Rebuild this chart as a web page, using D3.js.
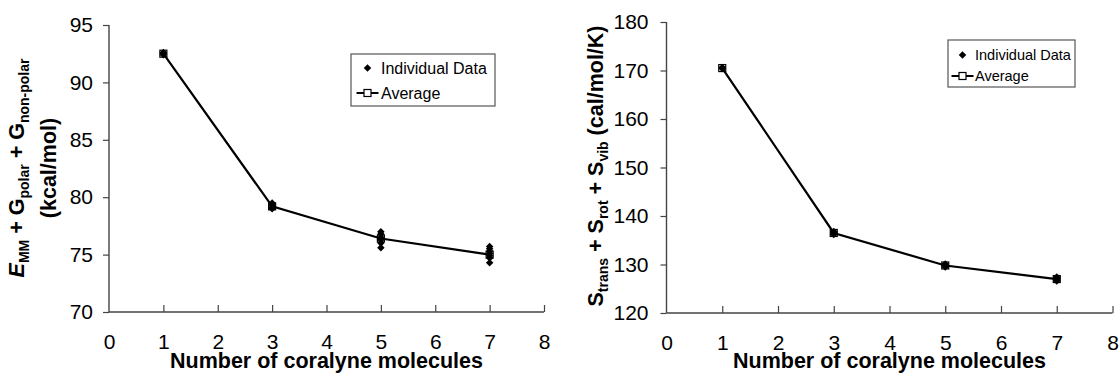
<!DOCTYPE html>
<html><head><meta charset="utf-8">
<script src="https://cdn.jsdelivr.net/npm/d3@7"></script>
<style>body{margin:0;background:#fff}svg{display:block}text{font-family:"Liberation Sans",Arial,sans-serif;fill:#000}</style>
</head><body>
<svg id="c" width="1120" height="375"></svg>
<script>
const xValues = [1, 3, 5, 7];
const xTicks = [0, 1, 2, 3, 4, 5, 6, 7, 8];
// Left panel: E_MM + G_polar + G_non-polar (kcal/mol)
const energyAverage = [92.5, 79.2, 76.4, 75.0];
const energyIndividual = [
  [92.4, 92.5, 92.6],
  [79.0, 79.1, 79.3, 79.5],
  [75.6, 76.0, 76.3, 76.5, 76.8, 77.0],
  [74.3, 74.7, 74.9, 75.1, 75.3, 75.5, 75.7]
];
const energyTicks = [70, 75, 80, 85, 90, 95];
// Right panel: S_trans + S_rot + S_vib (cal/mol/K)
const entropyAverage = [170.5, 136.5, 129.8, 127.0];
const entropyIndividual = [
  [170.4, 170.5, 170.6],
  [136.2, 136.4, 136.6, 136.8],
  [129.5, 129.7, 129.9, 130.1],
  [126.6, 126.8, 127.0, 127.2, 127.4]
];
const entropyTicks = [120, 130, 140, 150, 160, 170, 180];
const legendLabels = ["Individual Data", "Average"];
const xTitle = "Number of coralyne molecules";

const svg = d3.select("#c");
const diamond = d3.symbol().type(d3.symbolDiamond2).size(36);

function panel(cfg) {
  const x = d3.scaleLinear().domain([0, 8]).range([cfg.x0, cfg.x1]);
  const y = d3.scaleLinear().domain(cfg.yDomain).range([cfg.yBottom, cfg.yTop]);
  const g = svg.append("g");
  const axisColor = "#444";
  // y axis
  const ya = g.append("g").attr("transform", `translate(${cfg.x0},0)`)
    .call(d3.axisLeft(y).tickValues(cfg.yTicks).tickSize(6).tickPadding(cfg.yPad).tickFormat(d3.format("d")));
  ya.select(".domain").attr("stroke", axisColor).attr("stroke-width", 1.4).attr("d", `M0,${cfg.yTop}V${cfg.yBottom}`);
  ya.selectAll(".tick line").attr("stroke", axisColor).attr("stroke-width", 1.2);
  ya.selectAll(".tick text").attr("font-size", 21).attr("font-family", '"Liberation Sans",Arial,sans-serif').attr("fill", "#000");
  // x axis
  const xa = g.append("g").attr("transform", `translate(0,${cfg.yBottom})`)
    .call(d3.axisBottom(x).tickValues(xTicks).tickSize(-7).tickPadding(22).tickFormat(d3.format("d")));
  xa.select(".domain").attr("stroke", axisColor).attr("stroke-width", 1.4).attr("d", `M${cfg.x0},0H${cfg.x1}`);
  xa.selectAll(".tick line").attr("stroke", axisColor).attr("stroke-width", 1.2).filter(d => d === 0).remove();
  xa.selectAll(".tick text").attr("font-size", 21).attr("font-family", '"Liberation Sans",Arial,sans-serif').attr("fill", "#000").attr("dy", "0.71em");
  // x title
  g.append("text").attr("x", (cfg.x0 + cfg.x1) / 2).attr("y", 368).attr("text-anchor", "middle")
    .attr("font-size", 21.5).attr("font-weight", "bold").text(xTitle);

  // average line
  const pts = xValues.map((v, i) => [x(v), y(cfg.avg[i])]);
  g.append("path").attr("d", d3.line()(pts)).attr("fill", "none").attr("stroke", "#000").attr("stroke-width", 2.2);
  g.selectAll(".sq").data(pts).join("rect").attr("x", d => d[0] - 3.5).attr("y", d => d[1] - 3.5)
    .attr("width", 7).attr("height", 7).attr("fill", "none").attr("stroke", "#000").attr("stroke-width", 1.2);
  // individual
  const ind = [];
  cfg.ind.forEach((arr, i) => arr.forEach(v => ind.push([x(xValues[i]), y(v)])));
  g.selectAll(".dm").data(ind).join("path").attr("d", diamond)
    .attr("transform", d => `translate(${d[0]},${d[1]})`).attr("fill", "#000");

  // legend
  const L = cfg.legend;
  g.append("rect").attr("x", L.x).attr("y", L.y).attr("width", L.w).attr("height", L.h)
    .attr("fill", "#fff").attr("stroke", "#555").attr("stroke-width", 1.2);
  g.append("path").attr("d", diamond).attr("transform", `translate(${L.mx},${L.r1})`).attr("fill", "#000");
  g.append("line").attr("x1", L.mx - 11).attr("x2", L.mx + 11).attr("y1", L.r2).attr("y2", L.r2)
    .attr("stroke", "#000").attr("stroke-width", 2);
  g.append("rect").attr("x", L.mx - 3.5).attr("y", L.r2 - 3.5).attr("width", 7).attr("height", 7)
    .attr("fill", "#fff").attr("stroke", "#000").attr("stroke-width", 1.2);
  [L.r1, L.r2].forEach((r, i) => g.append("text").attr("x", L.tx).attr("y", r).attr("dy", "0.35em")
    .attr("font-size", L.fs).text(legendLabels[i]));
  return g;
}

const gl = panel({x0: 109, x1: 544, yTop: 25, yBottom: 312, yDomain: [70, 95], yTicks: energyTicks, yPad: 10,
  avg: energyAverage, ind: energyIndividual,
  legend: {x: 351, y: 54, w: 144, h: 52, mx: 367.5, r1: 68, r2: 93, tx: 381, fs: 16}});
const gr = panel({x0: 666.5, x1: 1112.5, yTop: 22, yBottom: 313, yDomain: [120, 180], yTicks: entropyTicks, yPad: 12,
  avg: entropyAverage, ind: entropyIndividual,
  legend: {x: 948, y: 40, w: 127, h: 47, mx: 962.5, r1: 55, r2: 76, tx: 975, fs: 14.5}});

// left y title (two lines)
const t1 = gl.append("text").attr("transform", "translate(24,168) rotate(-90)").attr("text-anchor", "middle")
  .attr("font-size", 21.5).attr("font-weight", "bold");
t1.append("tspan").attr("font-style", "italic").text("E");
t1.append("tspan").attr("font-size", 14).attr("dy", 5).text("MM");
t1.append("tspan").attr("dy", -5).text(" + G");
t1.append("tspan").attr("font-size", 14).attr("dy", 5).text("polar");
t1.append("tspan").attr("dy", -5).text(" + G");
t1.append("tspan").attr("font-size", 14).attr("dy", 5).text("non-polar");
gl.append("text").attr("transform", "translate(56,168) rotate(-90)").attr("text-anchor", "middle")
  .attr("font-size", 21.5).attr("font-weight", "bold").text("(kcal/mol)");

// right y title
const t2 = gr.append("text").attr("transform", "translate(603,166) rotate(-90)").attr("text-anchor", "middle")
  .attr("font-size", 21.5).attr("font-weight", "bold");
t2.append("tspan").text("S");
t2.append("tspan").attr("font-size", 14).attr("dy", 5).text("trans");
t2.append("tspan").attr("dy", -5).text(" + S");
t2.append("tspan").attr("font-size", 14).attr("dy", 5).text("rot");
t2.append("tspan").attr("dy", -5).text(" + S");
t2.append("tspan").attr("font-size", 14).attr("dy", 5).text("vib");
t2.append("tspan").attr("dy", -5).text(" (cal/mol/K)");
</script>
</body></html>
